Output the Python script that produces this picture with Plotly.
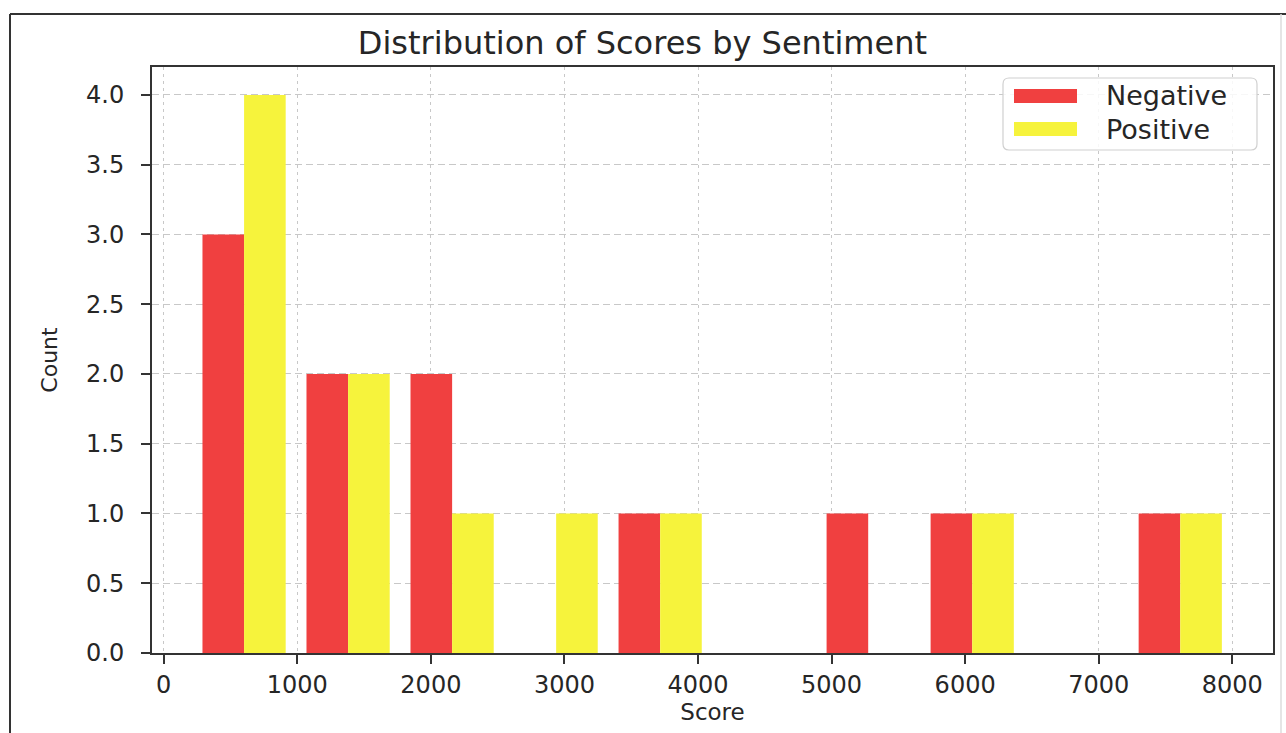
import plotly.graph_objects as go

# ---- data ----
bin_edges = [212, 990.8, 1769.6, 2548.4, 3327.2, 4106, 4884.8, 5663.6, 6442.4, 7221.2, 8000]
negative_counts = [3, 2, 2, 0, 1, 0, 1, 1, 0, 1]
positive_counts = [4, 2, 1, 1, 1, 0, 0, 1, 0, 1]
x_ticks = [0, 1000, 2000, 3000, 4000, 5000, 6000, 7000, 8000]
y_ticks = [0.0, 0.5, 1.0, 1.5, 2.0, 2.5, 3.0, 3.5, 4.0]
series_names = ["Negative", "Positive"]
title_text = "Distribution of Scores by Sentiment"
x_label = "Score"
y_label = "Count"

RED = "rgb(240,64,64)"
YELLOW = "rgb(246,243,60)"
TXT = "#262626"
FONT = "DejaVu Sans"

bw = [bin_edges[i + 1] - bin_edges[i] for i in range(len(bin_edges) - 1)]
starts = bin_edges[:-1]

fig = go.Figure()
fig.add_trace(go.Bar(
    x=starts, y=negative_counts, name=series_names[0],
    width=[0.4 * w for w in bw], offset=[0.1 * w for w in bw],
    marker=dict(color=RED, line=dict(width=0)),
))
fig.add_trace(go.Bar(
    x=starts, y=positive_counts, name=series_names[1],
    width=[0.4 * w for w in bw], offset=[0.5 * w for w in bw],
    marker=dict(color=YELLOW, line=dict(width=0)),
))

W, H = 1286, 733
ml, mr, mt, mb = 152, 13, 67, 80
pw = W - ml - mr
ph = H - mt - mb


def px_x(p):
    return (p - ml) / pw


def px_y(p):
    return 1 - (p - mt) / ph


axis_common = dict(
    showline=True, linecolor="#333333", linewidth=2, mirror=True,
    ticks="outside", ticklen=9, tickwidth=1.5, tickcolor="#333333",
    showgrid=True, gridcolor="#c8c8c8", gridwidth=1,
    zeroline=False,
    tickfont=dict(family=FONT, size=24, color=TXT),
    automargin=False,
)

fig.update_layout(
    width=W, height=H,
    margin=dict(l=ml, r=mr, t=mt, b=mb),
    paper_bgcolor="white", plot_bgcolor="white",
    barmode="overlay",
    showlegend=False,
    title=dict(text=title_text, x=px_x(712), xanchor="center",
               y=1 - 43 / H, yanchor="middle",
               font=dict(family=FONT, size=32, color=TXT)),
    xaxis=dict(
        range=[-88, 8305], tickvals=x_ticks, ticktext=[str(v) for v in x_ticks],
        title=dict(text=x_label, font=dict(family=FONT, size=23, color=TXT), standoff=0),
        griddash="3px,4px",
        **axis_common,
    ),
    yaxis=dict(
        range=[0, 4.2], tickvals=y_ticks, ticktext=[f"{v:.1f}" for v in y_ticks],
        title=dict(text=y_label, font=dict(family=FONT, size=22, color=TXT), standoff=22),
        ticklabelstandoff=12,
        griddash="7px,4px",
        **axis_common,
    ),
)

shapes = []
# outer figure frame (cropped)
shapes.append(dict(type="line", xref="paper", yref="paper",
                   x0=px_x(10), x1=px_x(10), y0=px_y(14), y1=px_y(740),
                   line=dict(color="#333333", width=2)))
shapes.append(dict(type="line", xref="paper", yref="paper",
                   x0=px_x(10), x1=px_x(1290), y0=px_y(14), y1=px_y(14),
                   line=dict(color="#333333", width=2)))
shapes.append(dict(type="line", xref="paper", yref="paper",
                   x0=px_x(1281), x1=px_x(1281), y0=px_y(14), y1=px_y(740),
                   line=dict(color="#dddddd", width=1.5)))

# legend box (rounded)
lx0, lx1, ly0, ly1, r = 1003, 1257, 78, 150, 6
def P(x, y):
    return f"{px_x(x)},{px_y(y)}"
path = (f"M {P(lx0 + r, ly0)} L {P(lx1 - r, ly0)} Q {P(lx1, ly0)} {P(lx1, ly0 + r)} "
        f"L {P(lx1, ly1 - r)} Q {P(lx1, ly1)} {P(lx1 - r, ly1)} "
        f"L {P(lx0 + r, ly1)} Q {P(lx0, ly1)} {P(lx0, ly1 - r)} "
        f"L {P(lx0, ly0 + r)} Q {P(lx0, ly0)} {P(lx0 + r, ly0)} Z")
shapes.append(dict(type="path", xref="paper", yref="paper", path=path,
                   fillcolor="rgba(255,255,255,0.85)",
                   line=dict(color="#d0d0d0", width=1.2)))
legend_rows = [(96, RED), (129, YELLOW)]
for (cy, col), name in zip(legend_rows, series_names):
    shapes.append(dict(type="rect", xref="paper", yref="paper",
                       x0=px_x(1014), x1=px_x(1077), y0=px_y(cy - 7), y1=px_y(cy + 7),
                       fillcolor=col, line=dict(width=0)))
    fig.add_annotation(xref="paper", yref="paper", x=px_x(1104), y=px_y(cy),
                       xanchor="left", yanchor="middle", showarrow=False,
                       text=name, font=dict(family=FONT, size=27, color=TXT))

fig.update_layout(shapes=shapes)
fig.write_html("out.html", config={"displayModeBar": False},
               post_script="document.body.style.margin='0';document.body.style.overflow='hidden';")
